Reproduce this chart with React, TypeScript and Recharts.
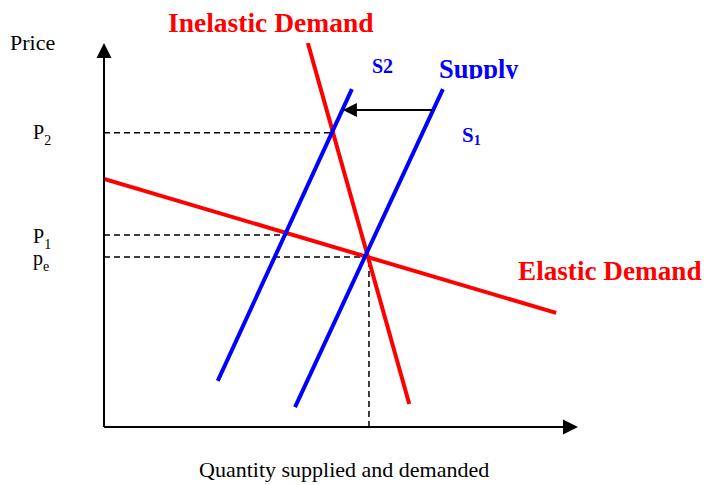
import React from 'react';
import { ComposedChart, Line, XAxis, YAxis, ReferenceLine, Customized } from 'recharts';

// Quantity (q) / price (p) coordinates on a 0–100 conceptual scale
const inelasticDemand = [{ q: 43, p: 100 }, { q: 64.4, p: 6 }];
const elasticDemand = [{ q: 0, p: 64.6 }, { q: 95.4, p: 29.7 }];
const supply1 = [{ q: 40.3, p: 5.2 }, { q: 71.5, p: 88 }];
const supply2 = [{ q: 24, p: 12 }, { q: 52.3, p: 88 }];

// Price levels and the quantities where their guide lines end
const priceTicks = [76.6, 50, 44.3];
const priceTickMain = ['P', 'P', 'p'];
const priceTickSub = ['2', '1', 'e'];
const guideQuantities = [48.1, 38.6, 55.9];
const equilibriumQ = 55.9;
const equilibriumP = 44.3;

// Supply shift arrow (from S1 to S2)
const shiftPrice = 82.55;
const shiftFromQ = 69.2;
const shiftToQ = 50.4;

const SERIF = 'Liberation Serif, Times New Roman, serif';
const serif = { fontFamily: SERIF };

const arrowShape = (headLen: number, headHalf: number, width: number) => (props: any) => {
  const { x1, y1, x2, y2 } = props;
  const dx = x2 - x1;
  const dy = y2 - y1;
  const len = Math.hypot(dx, dy) || 1;
  const ux = dx / len;
  const uy = dy / len;
  const bx = x2 - ux * headLen;
  const by = y2 - uy * headLen;
  const px = -uy;
  const py = ux;
  return (
    <g>
      <line x1={x1} y1={y1} x2={bx + ux * 1} y2={by + uy * 1} stroke="#000" strokeWidth={width} />
      <polygon
        points={`${x2},${y2} ${bx + px * headHalf},${by + py * headHalf} ${bx - px * headHalf},${by - py * headHalf}`}
        fill="#000"
      />
    </g>
  );
};

const PriceTick = (props: any) => {
  const { y, payload } = props;
  const i = priceTicks.indexOf(payload.value);
  if (i < 0) return null;
  const offs = [6, 8, 8];
  return (
    <text x={33} y={y + offs[i]} style={serif} fontSize={20} fill="#000">
      {priceTickMain[i]}
      <tspan fontSize={14} dy={6}>{priceTickSub[i]}</tspan>
    </text>
  );
};

const Labels = () => (
  <g>
    <defs>
      <clipPath id="supplyClip">
        <rect x={420} y={40} width={140} height={39} />
      </clipPath>
    </defs>
    <text x={10} y={50} style={serif} fontSize={22} fill="#000">Price</text>
    <text x={168} y={32} style={serif} fontSize={27.5} fontWeight="bold" fill="#ff0000">Inelastic Demand</text>
    <text x={372} y={73} style={serif} fontSize={20} fontWeight="bold" fill="#0000ff">S2</text>
    <text x={439} y={78} style={serif} fontSize={26.5} fontWeight="bold" fill="#0000ff" clipPath="url(#supplyClip)">Supply</text>
    <text x={462} y={142} style={serif} fontSize={21} fontWeight="bold" fill="#0000ff">
      S<tspan fontSize={14} dy={3}>1</tspan>
    </text>
    <text x={518} y={280} style={serif} fontSize={27.2} fontWeight="bold" fill="#ff0000">Elastic Demand</text>
    <text x={199} y={477} style={serif} fontSize={22} fill="#000">Quantity supplied and demanded</text>
  </g>
);

export default function App() {
  return (
    <div style={{ position: 'absolute', left: 0, top: 0, width: 704, height: 485, background: '#fff' }}>
      <ComposedChart width={704} height={485} margin={{ top: 43, right: 126, bottom: 58, left: 0 }}>
        <XAxis type="number" dataKey="q" domain={[0, 100]} hide allowDataOverflow />
        <YAxis
          type="number"
          dataKey="p"
          domain={[0, 100]}
          ticks={priceTicks}
          width={104}
          axisLine={false}
          tickLine={false}
          tick={<PriceTick />}
          interval={0}
          allowDataOverflow
        />
        {priceTicks.map((p, i) => (
          <ReferenceLine
            key={`g${i}`}
            segment={[{ x: 0, y: p }, { x: guideQuantities[i], y: p }]}
            stroke="#000"
            strokeWidth={1.5}
            strokeDasharray="6 4"
          />
        ))}
        <ReferenceLine
          segment={[{ x: equilibriumQ, y: 0 }, { x: equilibriumQ, y: equilibriumP }]}
          stroke="#000"
          strokeWidth={1.5}
          strokeDasharray="6 4"
        />
        <Line data={elasticDemand} dataKey="p" type="linear" stroke="#ff0000" strokeWidth={4} dot={false} activeDot={false} isAnimationActive={false} />
        <Line data={inelasticDemand} dataKey="p" type="linear" stroke="#ff0000" strokeWidth={4} dot={false} activeDot={false} isAnimationActive={false} />
        <Line data={supply1} dataKey="p" type="linear" stroke="#0000ff" strokeWidth={4} dot={false} activeDot={false} isAnimationActive={false} />
        <Line data={supply2} dataKey="p" type="linear" stroke="#0000ff" strokeWidth={4} dot={false} activeDot={false} isAnimationActive={false} />
        <ReferenceLine
          segment={[{ x: shiftFromQ, y: shiftPrice }, { x: shiftToQ, y: shiftPrice }]}
          shape={arrowShape(14, 7, 2)}
        />
        <ReferenceLine segment={[{ x: 0, y: 0 }, { x: 0, y: 100 }]} shape={arrowShape(15, 7.5, 2)} ifOverflow="visible" />
        <ReferenceLine segment={[{ x: 0, y: 0 }, { x: 100, y: 0 }]} shape={arrowShape(15, 7.5, 2)} ifOverflow="visible" />
        <Customized component={Labels} />
      </ComposedChart>
    </div>
  );
}
